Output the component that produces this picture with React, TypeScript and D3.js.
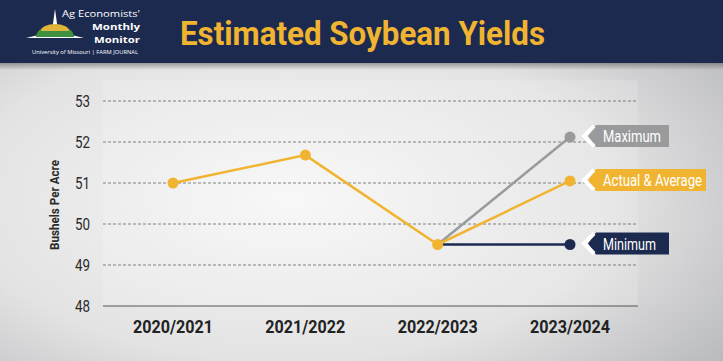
import React, { useEffect, useRef } from "react";
import * as d3 from "d3";

const seasons = ["2020/2021", "2021/2022", "2022/2023", "2023/2024"];
const actualAverage = [51.0, 51.68, 49.5, 51.05];
const maximumBranch = [49.5, 52.12]; // 2022/2023 -> 2023/2024
const minimumBranch = [49.5, 49.5];
const yTicks = [48, 49, 50, 51, 52, 53];
const seriesLabels = ["Maximum", "Actual & Average", "Minimum"];

const NAVY = "#1c2a4f";
const GOLD = "#f0b431";
const GREY = "#999a9c";
const FONT = "'Roboto', sans-serif";

const App = () => {
  const ref = useRef<SVGSVGElement>(null);

  useEffect(() => {
    const svg = d3.select(ref.current);
    svg.selectAll("*").remove();

    const width = 723;
    const height = 361;

    const defs = svg.append("defs");
    const bg = defs
      .append("radialGradient")
      .attr("id", "bg")
      .attr("cx", "40%")
      .attr("cy", "55%")
      .attr("r", "75%");
    bg.append("stop").attr("offset", "0%").attr("stop-color", "#f7f7f7");
    bg.append("stop").attr("offset", "60%").attr("stop-color", "#e3e3e4");
    bg.append("stop").attr("offset", "100%").attr("stop-color", "#b9babc");

    const shadow = defs.append("linearGradient").attr("id", "shadow").attr("x1", 0).attr("y1", 0).attr("x2", 0).attr("y2", 1);
    shadow.append("stop").attr("offset", "0%").attr("stop-color", "#555").attr("stop-opacity", 0.6);
    shadow.append("stop").attr("offset", "100%").attr("stop-color", "#555").attr("stop-opacity", 0);

    // Background
    svg.append("rect").attr("width", width).attr("height", height).attr("fill", "url(#bg)");
    svg.append("rect").attr("x", 103).attr("y", 80).attr("width", 535).attr("height", 226).attr("fill", "#fff").attr("opacity", 0.15);

    // Header
    svg.append("rect").attr("y", 62).attr("width", width).attr("height", 8).attr("fill", "url(#shadow)");
    svg.append("rect").attr("width", width).attr("height", 63).attr("fill", NAVY);

    // Logo
    const logo = svg.append("g");
    logo.append("path").attr("d", "M26,38 L84,38 L55,31 Z").attr("fill", "#fff");
    logo.append("path").attr("d", "M55,9 L52,31 L58,31 Z").attr("fill", "#fff");
    logo.append("path").attr("d", "M36,37 A19,12 0 0 1 74,37 Z").attr("fill", "#3e8f3e");
    logo.append("path").attr("d", "M41,31 A14,7 0 0 1 69,31 Z").attr("fill", "#e0b53a");
    const logoText = (t: string, yy: number, bold: boolean, len: number) =>
      logo.append("text").attr("x", 140 - len).attr("y", yy).attr("fill", "#fff")
        .attr("textLength", len).attr("lengthAdjust", "spacingAndGlyphs")
        .style("font-family", "'Open Sans', sans-serif").style("font-size", "9.5px")
        .style("font-weight", bold ? 700 : 400).text(t);
    logoText("Ag Economists'", 17, false, 78);
    logoText("Monthly", 30, true, 48);
    logoText("Monitor", 43, true, 46);
    logo.append("text").attr("x", 32).attr("y", 54).attr("fill", "#fff")
      .attr("textLength", 106).attr("lengthAdjust", "spacingAndGlyphs")
      .style("font-family", "'Open Sans', sans-serif").style("font-size", "5px").text("University of Missouri  |  FARM JOURNAL");

    svg.append("text").attr("x", 180).attr("y", 45).attr("fill", GOLD)
      .attr("textLength", 365).attr("lengthAdjust", "spacingAndGlyphs")
      .style("font-family", FONT).style("font-size", "34px").style("font-weight", 700)
      .text("Estimated Soybean Yields");

    // Scales
    const x = d3.scalePoint().domain(seasons).range([173, 570]);
    const y = d3.scaleLinear().domain([48, 53]).range([306, 101]);

    // Grid + y labels
    const grid = svg.append("g");
    grid.selectAll("line").data(yTicks).enter().append("line")
      .attr("x1", 103).attr("x2", 638)
      .attr("y1", (d) => y(d)).attr("y2", (d) => y(d))
      .attr("stroke", (d) => (d === 48 ? "#555" : "#666"))
      .attr("stroke-width", (d) => (d === 48 ? 1 : 0.8))
      .attr("stroke-dasharray", (d) => (d === 48 ? null : "3,2"));
    grid.selectAll("text").data(yTicks).enter().append("text")
      .attr("x", 90).attr("y", (d) => y(d) + 6).attr("text-anchor", "end").attr("fill", "#2a2a2a")
      .attr("textLength", 15).attr("lengthAdjust", "spacingAndGlyphs")
      .style("font-family", FONT).style("font-size", "17px").text((d) => d);

    svg.append("text").attr("transform", "translate(59,205) rotate(-90)").attr("text-anchor", "middle")
      .attr("textLength", 90).attr("lengthAdjust", "spacingAndGlyphs")
      .attr("fill", "#2a2a2a").style("font-family", FONT).style("font-size", "13px").style("font-weight", 700)
      .text("Bushels Per Acre");

    svg.append("g").selectAll("text").data(seasons).enter().append("text")
      .attr("x", (d) => x(d)!).attr("y", 333).attr("text-anchor", "middle").attr("fill", "#222")
      .attr("textLength", 80).attr("lengthAdjust", "spacingAndGlyphs")
      .style("font-family", FONT).style("font-size", "18px").style("font-weight", 700).text((d) => d);

    // Lines
    const line = d3.line<[string, number]>().x((d) => x(d[0])!).y((d) => y(d[1]));
    const branchSeasons = seasons.slice(2);
    const maxPts: [string, number][] = branchSeasons.map((s, i) => [s, maximumBranch[i]]);
    const minPts: [string, number][] = branchSeasons.map((s, i) => [s, minimumBranch[i]]);
    const avgPts: [string, number][] = seasons.map((s, i) => [s, actualAverage[i]]);

    const series = [
      { pts: maxPts, color: GREY, label: seriesLabels[0], w: 73, tl: 58 },
      { pts: minPts, color: NAVY, label: seriesLabels[2], w: 73, tl: 53 },
      { pts: avgPts, color: GOLD, label: seriesLabels[1], w: 110, tl: 99 },
    ];

    series.forEach((s) => {
      svg.append("path").datum(s.pts).attr("fill", "none").attr("stroke", s.color)
        .attr("stroke-width", 2.5).attr("d", line);
      svg.append("g").selectAll("circle").data(s.pts.slice(s.pts.length === 2 ? 1 : 0)).enter().append("circle")
        .attr("cx", (d) => x(d[0])!).attr("cy", (d) => y(d[1])).attr("r", 5.5).attr("fill", s.color);

      // Label tag
      const last = s.pts[s.pts.length - 1];
      const ly = y(last[1]) - 1;
      const lx = x(last[0])! + 20;
      const tag = svg.append("g");
      tag.append("path")
        .attr("d", `M${lx - 2},${ly} L${lx + 6},${ly - 11} L${lx + 6 + s.w},${ly - 11} L${lx + 6 + s.w},${ly + 11} L${lx + 6},${ly + 11} Z`)
        .attr("fill", s.color);
      tag.append("path")
        .attr("d", `M${lx + 4},${ly - 10} L${lx - 6},${ly} L${lx + 4},${ly + 10}`)
        .attr("fill", "none").attr("stroke", "#fff").attr("stroke-width", 4);
      tag.append("text").attr("x", lx + 13).attr("y", ly + 6).attr("fill", "#fff")
        .attr("textLength", s.tl).attr("lengthAdjust", "spacingAndGlyphs")
        .style("font-family", FONT).style("font-size", "16px").text(s.label);
    });
  }, []);

  return (
    <svg ref={ref} width={723} height={361} style={{ display: "block", position: "absolute", left: 0, top: 0 }} />
  );
};

export default App;
